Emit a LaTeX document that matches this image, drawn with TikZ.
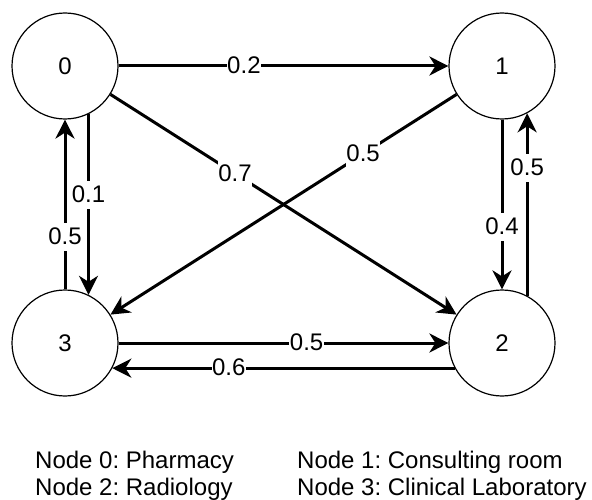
\documentclass[tikz,border=0pt]{standalone}
\usepackage{fontspec}
\setmainfont{Liberation Sans}
\usetikzlibrary{arrows.meta}
\frenchspacing

\begin{document}
\begin{tikzpicture}[x=1pt, y=-1pt,
    state/.style={draw, circle, line width=1.2pt, minimum size=106pt, inner sep=0pt, font=\fontsize{24}{28.8}\selectfont},
    edge/.style={-{Stealth[length=19pt, width=19pt, inset=6pt]}, line width=3pt},
    weight/.style={fill=white, inner xsep=0.5pt, inner ysep=1.5pt, text height=20pt, text depth=5pt, font=\fontsize{24}{28.8}\selectfont},
    legend/.style={anchor=base west, inner sep=0pt, font=\fontsize{24}{28.8}\selectfont}]
    \useasboundingbox (0,0) rectangle (592,500);
    % States
    \node[state] (n0) at (65,66) {0};
    \node[state] (n1) at (502,66) {1};
    \node[state] (n2) at (502,343) {2};
    \node[state] (n3) at (65,343) {3};

    % Transitions
    \draw[edge] (n0.east) -- node[weight, pos=0.38] {0.2} (n1.west);
    \draw[edge] (n0.-32) -- node[weight, pos=0.36] {0.7} (n2.148);
    \draw[edge] (n1.-148) -- node[weight, pos=0.27] {0.5} (n3.32);
    \draw[edge] (n0.-64) -- node[weight, pos=0.45] {0.1} (n3.64);
    \draw[edge] (n3.north) -- node[weight, pos=0.31] {0.5} (n0.south);
    \draw[edge] (n1.south) -- node[weight, pos=0.63] {0.4} (n2.north);
    \draw[edge] (n2.62) -- node[weight, pos=0.70] {0.5} (n1.-62);
    \draw[edge] (n3.east) -- node[weight, pos=0.57] {0.5} (n2.west);
    \draw[edge] (n2.-152) -- node[weight, pos=0.66] {0.6} (n3.-28);

    % Legend
    \node[legend] (leg0) at (35,468) {Node 0: Pharmacy};
    \node[legend] (leg1) at (297,468) {Node 1: Consulting room};
    \node[legend] (leg2) at (35,495.6) {Node 2: Radiology};
    \node[legend] (leg3) at (297,495.6) {Node 3: Clinical Laboratory};
\end{tikzpicture}
\end{document}
